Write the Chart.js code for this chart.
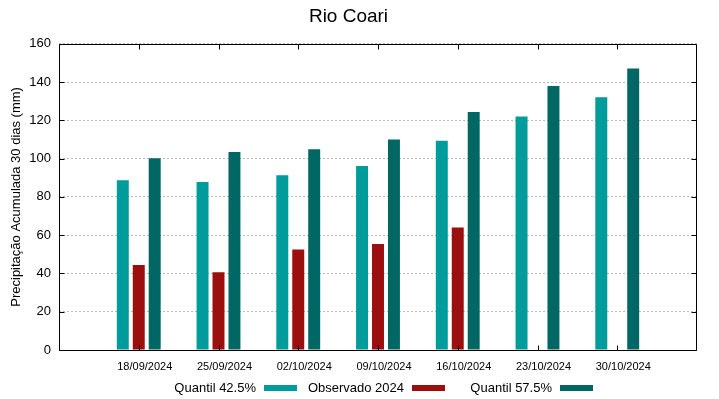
<!DOCTYPE html>
<html><head><meta charset="utf-8">
<script src="https://cdn.jsdelivr.net/npm/chart.js@4"></script>
<style>html,body{margin:0;padding:0;background:#fff}#wrap{width:719px;height:399px}</style>
</head><body><div id="wrap"><canvas id="c" width="719" height="399"></canvas></div>
<script>
const chartTitle = 'Rio Coari';
const yTitle = 'Precipitação Acumulada 30 dias (mm)';
const categories = ['18/09/2024', '25/09/2024', '02/10/2024', '09/10/2024', '16/10/2024', '23/10/2024', '30/10/2024'];
const seriesNames = ['Quantil 42.5%', 'Observado 2024', 'Quantil 57.5%'];
const quantil425 = [88.7, 87.8, 91.3, 96.2, 109.3, 122.0, 132.1];
const observado2024 = [44.4, 40.6, 52.5, 55.4, 64.0, null, null];
const quantil575 = [100.2, 103.4, 104.9, 110.0, 124.3, 138.0, 147.1];
const yTicks = [0, 20, 40, 60, 80, 100, 120, 140, 160];
const colors = ['#009b9b', '#9b0f0f', '#006765'];

Chart.defaults.font.family = '"Liberation Sans", Arial, sans-serif';
Chart.defaults.color = '#000';

const pad = arr => [null, ...arr, null];
const labels = ['', ...categories, ''];

const framePlugin = {
  id: 'frame',
  afterDatasetsDraw(chart) {
    const {ctx, chartArea: a, scales} = chart;
    const L = Math.round(a.left) + 0.5, R = Math.round(a.right) - 0.5;
    const T = Math.round(a.top) + 0.5, B = Math.round(a.bottom) + 0.5;
    ctx.save();
    ctx.strokeStyle = '#000';
    ctx.lineWidth = 1;
    ctx.beginPath();
    ctx.rect(L, T, R - L, B - T);
    const tl = 5;
    yTicks.forEach(v => {
      const y = Math.round(scales.y.getPixelForValue(v)) + 0.5;
      ctx.moveTo(L, y); ctx.lineTo(L + tl, y);
      ctx.moveTo(R, y); ctx.lineTo(R - tl, y);
    });
    categories.forEach((c, i) => {
      const x = Math.round(scales.x.getPixelForValue(i + 1)) + 0.5;
      ctx.moveTo(x, B); ctx.lineTo(x, B - tl);
      ctx.moveTo(x, T); ctx.lineTo(x, T + tl);
    });
    ctx.stroke();
    ctx.restore();
  }
};

const keyPlugin = {
  id: 'key',
  afterDraw(chart) {
    const {ctx} = chart;
    ctx.save();
    ctx.font = '13px "Liberation Sans", Arial, sans-serif';
    ctx.textAlign = 'right';
    ctx.textBaseline = 'middle';
    const x0 = 264, colW = 148, yc = 388, sw = 33, sh = 6;
    chart.data.datasets.forEach((ds, i) => {
      const sx = x0 + i * colW;
      ctx.fillStyle = '#000';
      ctx.fillText(ds.label, sx - 8, yc);
      ctx.fillStyle = ds.backgroundColor;
      ctx.fillRect(sx, yc - sh / 2, sw, sh);
    });
    ctx.restore();
  }
};

new Chart(document.getElementById('c'), {
  type: 'bar',
  data: {
    labels: labels,
    datasets: [
      {label: seriesNames[0], data: pad(quantil425), backgroundColor: colors[0]},
      {label: seriesNames[1], data: pad(observado2024), backgroundColor: colors[1]},
      {label: seriesNames[2], data: pad(quantil575), backgroundColor: colors[2]}
    ]
  },
  options: {
    responsive: false,
    animation: false,
    devicePixelRatio: 1,
    datasets: {bar: {categoryPercentage: 0.6, barPercentage: 0.75, borderWidth: 0}},
    layout: {padding: {left: 0, right: 22, top: 0, bottom: 0}},
    plugins: {
      legend: {display: false},
      tooltip: {enabled: false},
      title: {display: true, text: chartTitle, font: {size: 19, weight: 'normal'}, color: '#000', padding: {top: 5, bottom: 16}}
    },
    scales: {
      x: {
        type: 'category',
        offset: false,
        grid: {display: false, drawTicks: false},
        border: {display: false},
        ticks: {font: {size: 11}, color: '#000', labelOffset: 6, padding: 10, autoSkip: false, maxRotation: 0},
        afterFit: s => { s.height = 49; }
      },
      y: {
        min: 0, max: 160,
        afterBuildTicks: s => { s.ticks = yTicks.map(v => ({value: v})); },
        ticks: {font: {size: 13}, color: '#000', padding: 8},
        grid: {color: '#b8b8b8', lineWidth: 1, drawTicks: false},
        border: {display: false, dash: [2, 2]},
        title: {display: true, text: yTitle, font: {size: 13}, color: '#000', padding: {top: 9, bottom: 0}},
        afterFit: s => { s.width = 59; }
      }
    }
  },
  plugins: [framePlugin, keyPlugin]
});
</script>
</body></html>
